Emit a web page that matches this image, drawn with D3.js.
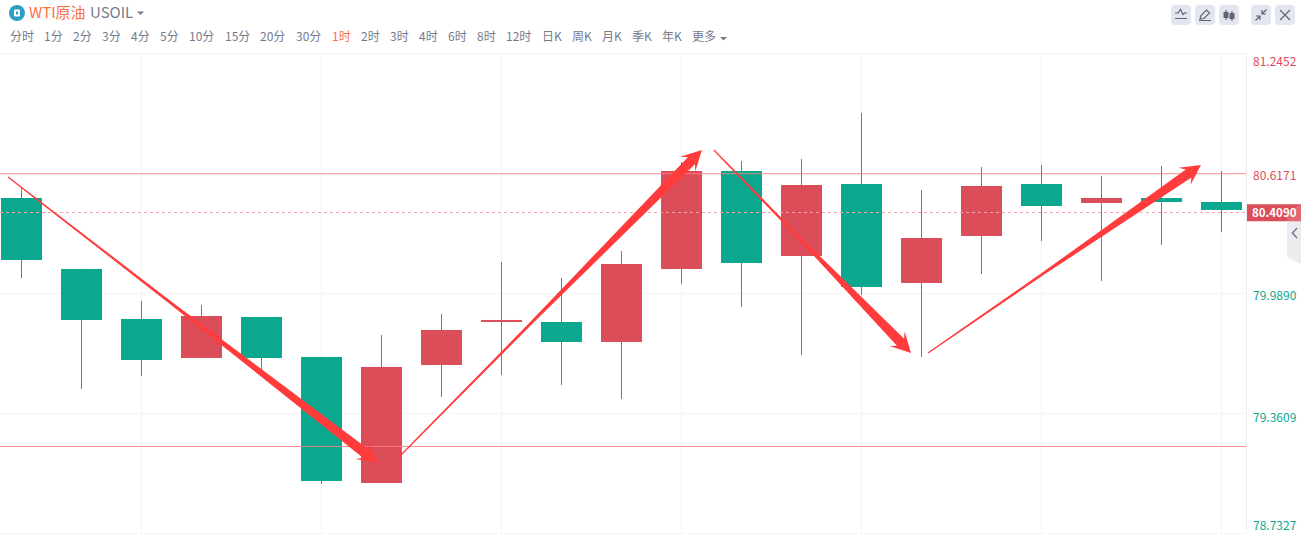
<!DOCTYPE html>
<html>
<head>
<meta charset="utf-8">
<script src="https://cdn.jsdelivr.net/npm/d3@7"></script>
<style>
  html, body { margin: 0; padding: 0; background: #fff; width: 1301px; height: 554px; overflow: hidden; }
  svg { position: absolute; left: 0; top: 0; font-family: "Noto Sans CJK SC", "Noto Sans", sans-serif; }
</style>
</head>
<body>
<div id="chart"></div>
<script>
// Candle values
const opens  = [80.4863, 80.1147, 79.8530, 79.6488, 79.8634, 79.6541, 78.9946, 79.6122, 79.8373, 79.8373, 79.7326, 80.1147, 80.6276, 80.1827, 80.5595, 80.0414, 80.2874, 80.5595, 80.4601, 80.4863, 80.4653];
const closes = [80.1618, 79.8477, 79.6384, 79.8687, 79.6488, 79.0050, 79.6017, 79.7954, 79.8477, 79.7326, 80.1408, 80.6276, 80.1461, 80.5543, 80.0204, 80.2769, 80.5491, 80.4444, 80.4863, 80.4653, 80.4235];
const highs  = [80.5386, 80.1147, 79.9472, 79.9262, 79.8634, 79.6541, 79.7692, 79.8791, 80.1513, 80.0675, 80.2089, 80.6747, 80.6799, 80.6904, 80.9312, 80.5281, 80.6485, 80.6590, 80.6014, 80.6538, 80.6276];
const lows   = [80.0675, 79.4866, 79.5546, 79.6488, 79.5756, 78.9893, 78.9946, 79.4447, 79.5599, 79.5075, 79.4342, 80.0361, 79.9158, 79.6645, 79.9786, 79.6541, 80.0885, 80.2612, 80.0518, 80.2403, 80.3083];

const priceTicks = [81.2452, 80.6171, 79.9890, 79.3609, 78.7327];
const gridCandles = [2, 5, 8, 11, 14, 17, 20];
const lastPrice = 80.4090;
const refLines = [80.6135, 79.1856];

// Hand drawn arrows, in candle index / price
const arrowFromIdx   = [-0.225, 6.308, 11.54, 15.108];
const arrowFromPrice = [80.5962, 79.1359, 80.7375, 79.675];
const arrowToIdx     = [5.94, 11.34, 14.825, 19.658];
const arrowToPrice   = [79.0993, 80.7375, 79.675, 80.659];

const tabs = ['分时','1分','2分','3分','4分','5分','10分','15分','20分','30分','1时','2时','3时','4时','6时','8时','12时','日K','周K','月K','季K','年K','更多'];
const activeTab = '1时';

const RED = '#dc4d5a', GREEN = '#0aa88f', ORANGE = '#ff6f3f', GRAY = '#757b8c';

const width = 1301, height = 554;
const margin = { top: 53, right: 55, bottom: 21, left: 0 };
const plotRight = width - margin.right;

const svg = d3.select('#chart').append('svg')
  .attr('width', width)
  .attr('height', height);

// Scales
const x = d3.scaleBand()
  .domain(d3.range(opens.length))
  .range([-8.5, 1251.5])
  .paddingInner(19 / 60)
  .paddingOuter(19 / 120);

const y = d3.scaleLinear()
  .domain([priceTicks[priceTicks.length - 1], priceTicks[0]])
  .range([height - margin.bottom, margin.top]);

const cx = i => x(i) + x.bandwidth() / 2;
const idxX = d3.scaleLinear().domain([0, 1]).range([cx(0), cx(1)]);

// Grid
svg.append('g').selectAll('line')
  .data(priceTicks)
  .join('line')
  .attr('x1', 0).attr('x2', plotRight)
  .attr('y1', d => Math.round(y(d)) + 0.5).attr('y2', d => Math.round(y(d)) + 0.5)
  .attr('stroke', '#f4f4f7');

svg.append('g').selectAll('line')
  .data(gridCandles)
  .join('line')
  .attr('x1', d => cx(d)).attr('x2', d => cx(d))
  .attr('y1', margin.top).attr('y2', height - margin.bottom)
  .attr('stroke', '#f4f4f7');

svg.append('line')
  .attr('x1', plotRight + 0.5).attr('x2', plotRight + 0.5)
  .attr('y1', margin.top).attr('y2', height - margin.bottom)
  .attr('stroke', '#eeeef2');

// Candles
const candles = svg.append('g').selectAll('g')
  .data(opens.map((o, i) => ({ i, o, c: closes[i], h: highs[i], l: lows[i] })))
  .join('g');

candles.append('line')
  .attr('x1', d => cx(d.i)).attr('x2', d => cx(d.i))
  .attr('y1', d => y(d.h)).attr('y2', d => y(d.l))
  .attr('stroke', d => d.c >= d.o ? RED : GREEN);

candles.append('rect')
  .attr('x', d => x(d.i))
  .attr('width', x.bandwidth())
  .attr('y', d => y(Math.max(d.o, d.c)))
  .attr('height', d => Math.abs(y(d.o) - y(d.c)))
  .attr('fill', d => d.c >= d.o ? RED : GREEN);

// Reference lines
svg.append('g').selectAll('line')
  .data(refLines)
  .join('line')
  .attr('x1', 0).attr('x2', plotRight)
  .attr('y1', d => y(d)).attr('y2', d => y(d))
  .attr('stroke', '#ff7f7f')
  .attr('stroke-opacity', 0.85);

svg.append('line')
  .attr('x1', 0).attr('x2', plotRight)
  .attr('y1', Math.round(y(lastPrice)) - 0.5).attr('y2', Math.round(y(lastPrice)) - 0.5)
  .attr('stroke', '#f7a0a8')
  .attr('stroke-dasharray', '3,3');

// Arrows: thin tail, the shaft only gets wide over its last part
function arrowPath(x0, y0, x1, y1) {
  const len = Math.hypot(x1 - x0, y1 - y0);
  const ux = (x1 - x0) / len, uy = (y1 - y0) / len;
  const nx = -uy, ny = ux;
  const at = (along, side) => [x0 + ux * along + nx * side, y0 + uy * along + ny * side];
  const neck = len - 15;
  return d3.line()([
    at(0, -0.6),
    at(neck * 0.45, -1.4),
    at(neck, -5),
    at(len - 20, -10.5),
    at(len, 0),
    at(len - 20, 10.5),
    at(neck, 5),
    at(neck * 0.45, 1.4),
    at(0, 0.6)
  ]) + 'Z';
}

svg.append('g').selectAll('path')
  .data(arrowFromIdx.map((d, i) => i))
  .join('path')
  .attr('d', i => arrowPath(idxX(arrowFromIdx[i]), y(arrowFromPrice[i]), idxX(arrowToIdx[i]), y(arrowToPrice[i])))
  .attr('fill', '#ff3b3b');

// Price axis
const axis = svg.append('g')
  .attr('transform', `translate(${plotRight},0)`)
  .call(d3.axisRight(y).tickValues(priceTicks).tickSize(0).tickPadding(7).tickFormat(d3.format('.4f')));
axis.select('.domain').remove();
axis.selectAll('text')
  .attr('font-family', '"Noto Sans CJK SC", "Noto Sans", sans-serif')
  .style('font-size', '12px')
  .attr('fill', d => d > lastPrice ? RED : GREEN)
  .attr('dy', (d, i) => i === 0 ? '1.0em' : i === priceTicks.length - 1 ? '-0.32em' : i === 3 ? '0.68em' : '0.58em');

// Side tab
svg.append('path')
  .attr('d', 'M1301,203L1287,212V257L1301,264Z')
  .attr('fill', '#ebebf0');
svg.append('path')
  .attr('d', 'M1297,228L1292.5,233L1297,238')
  .attr('fill', 'none')
  .attr('stroke', GRAY)
  .attr('stroke-width', 1.5);

// Last price tag
svg.append('rect')
  .attr('x', plotRight + 1).attr('y', y(lastPrice) - 8.5)
  .attr('width', 54).attr('height', 17)
  .attr('fill', RED);
svg.append('path')
  .attr('d', 'M1301,204L1287,212V221.3H1301Z')
  .attr('fill', '#fff')
  .attr('fill-opacity', 0.15);
svg.append('text')
  .attr('x', plotRight + 6).attr('y', y(lastPrice) + 4.5)
  .attr('fill', '#fff')
  .style('font-size', '11.5px')
  .style('font-weight', 700)
  .text(d3.format('.4f')(lastPrice));

// Header
svg.append('circle').attr('cx', 17).attr('cy', 13).attr('r', 8).attr('fill', '#2a9fc4');
svg.append('rect').attr('x', 14).attr('y', 9.5).attr('width', 6).attr('height', 7).attr('rx', 1).attr('fill', '#fff');
svg.append('rect').attr('x', 16).attr('y', 11.5).attr('width', 2).attr('height', 3).attr('fill', '#2a9fc4');

svg.append('text').attr('x', 29).attr('y', 18)
  .attr('fill', ORANGE).style('font-size', '15px').text('WTI原油');
svg.append('text').attr('x', 90).attr('y', 18)
  .attr('fill', GRAY).style('font-size', '15px').text('USOIL');
svg.append('path').attr('d', 'M137,11.5h7l-3.5,3.5Z').attr('fill', GRAY);

// Period tabs, each placed after the one before it
let tabX = 9.6;
svg.append('g').selectAll('text')
  .data(tabs)
  .join('text')
  .attr('y', 41)
  .attr('fill', d => d === activeTab ? ORANGE : GRAY)
  .style('font-size', '12px')
  .text(d => d)
  .each(function() {
    d3.select(this).attr('x', Math.round(tabX));
    tabX += this.getComputedTextLength() + 10.35;
  });
svg.append('path').attr('d', 'M720,37h7l-3.5,3.5Z').attr('fill', GRAY);

// Toolbar buttons
const toolX = [1171, 1195, 1219, 1251, 1275];
const toolIcons = [
  'M4,8L7,8L9.5,4.5L12,9.5L13.5,8L16,8M4,13.5H16',
  'M5,14L6,10.5L11.5,5L14.5,8L9,13.5ZM4,15.5H16',
  'M7,5V15M13,6V16',
  'M4.5,15.5L9,11M9,15V11H5M15.5,4.5L11,9M11,5V9H15',
  'M5,5L15,15M15,5L5,15'
];
const tools = svg.append('g').selectAll('g')
  .data(toolX)
  .join('g')
  .attr('transform', d => `translate(${d},5)`);
tools.append('rect')
  .attr('width', 20).attr('height', 20).attr('rx', 4)
  .attr('fill', '#e3e6ee');
tools.append('path')
  .attr('d', (d, i) => toolIcons[i])
  .attr('fill', 'none')
  .attr('stroke', '#5f6473')
  .attr('stroke-width', 1.2);
tools.filter((d, i) => i === 2).selectAll('rect.body')
  .data([[4.5, 7, 5, 6], [10.5, 8, 5, 6]])
  .join('rect')
  .attr('x', d => d[0]).attr('y', d => d[1]).attr('width', d => d[2]).attr('height', d => d[3])
  .attr('fill', '#5f6473');
</script>
</body>
</html>
